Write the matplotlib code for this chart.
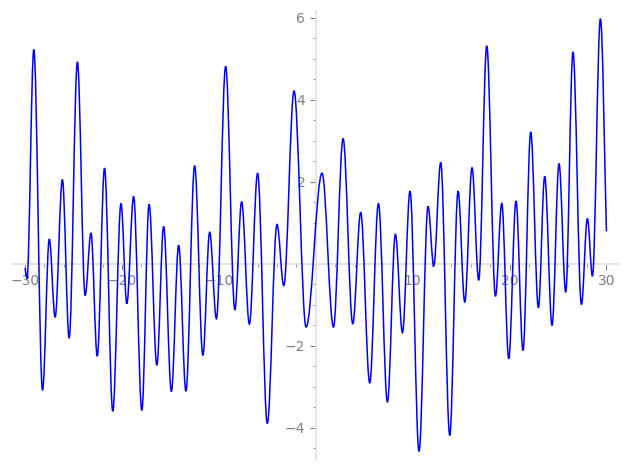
import matplotlib
matplotlib.use("Agg")
import matplotlib.pyplot as plt
from matplotlib.path import Path
from matplotlib.patches import PathPatch
from matplotlib.ticker import FixedLocator, MultipleLocator

# turning points of the curve (first/last are the ends)
x_pts = [-30.0, -29.8, -29.1, -28.2, -27.5, -26.9, -26.15, -25.45, -24.6, -23.8,
         -23.2, -22.55, -21.8, -20.95, -20.1, -19.5, -18.8, -17.95, -17.2, -16.4,
         -15.7, -14.9, -14.15, -13.4, -12.5, -11.65, -10.95, -10.25, -9.3, -8.35,
         -7.65, -6.85, -6.0, -5.0, -4.0, -3.3, -2.24, -1.0, 0.65, 1.83,
         2.82, 3.82, 4.64, 5.57, 6.47, 7.40, 8.22, 8.95, 9.73, 10.66,
         11.59, 12.18, 12.9, 13.83, 14.69, 15.38, 16.13, 16.82, 17.65, 18.55,
         19.2, 19.92, 20.67, 21.39, 22.19, 22.98, 23.63, 24.39, 25.11, 25.8,
         26.55, 27.42, 28.04, 28.56, 29.38, 30.0]
y_pts = [-0.1, -0.35, 5.22, -3.08, 0.6, -1.30, 2.05, -1.81, 4.92, -0.77,
         0.75, -2.25, 2.33, -3.59, 1.47, -0.97, 1.64, -3.57, 1.45, -2.47,
         0.91, -3.11, 0.45, -3.10, 2.39, -2.23, 0.77, -1.34, 4.81, -1.12,
         1.51, -1.47, 2.21, -3.89, 0.96, -0.53, 4.21, -1.54, 2.21, -1.54,
         3.05, -1.46, 1.25, -2.90, 1.47, -3.37, 0.72, -1.68, 1.77, -4.57,
         1.40, -0.05, 2.47, -4.18, 1.77, -0.93, 2.34, -0.40, 5.31, -0.79,
         1.47, -2.31, 1.53, -2.11, 3.21, -1.07, 2.13, -1.50, 2.44, -0.69,
         5.16, -0.99, 1.10, -0.30, 5.97, 0.79]

fig = plt.figure(figsize=(6.27, 4.70), dpi=100)
ax = fig.add_axes([0.0207, 0.0213, 0.965, 0.957])

# smooth curve through the turning points: cubic pieces with flat tangents
k = 0.36
verts = [(x_pts[0], y_pts[0])]
codes = [Path.MOVETO]
n = len(x_pts)
for i in range(n - 1):
    x0, y0 = x_pts[i], y_pts[i]
    x1, y1 = x_pts[i + 1], y_pts[i + 1]
    dx = x1 - x0
    c0 = (x0 + k * dx, y0)
    c1 = (x1 - k * dx, y1)
    if i == 0:
        c0 = (x0 + k * dx, y0 + (y1 - y0) * 0.5)
    if i == n - 2:
        c1 = (x1 - k * dx, y1 + (y0 - y1) * 0.4)
    verts += [c0, c1, (x1, y1)]
    codes += [Path.CURVE4] * 3
ax.add_patch(PathPatch(Path(verts, codes), facecolor="none",
                       edgecolor="#0000ff", lw=1.1, zorder=3))

ax.set_xlim(-31.25, 31.2)
ax.set_ylim(-4.78, 6.18)

for s in ["top", "right"]:
    ax.spines[s].set_visible(False)
ax.spines["left"].set_position(("data", 0))
ax.spines["bottom"].set_position(("data", 0))
for s in ["left", "bottom"]:
    ax.spines[s].set_color("#e0e0e0")
    ax.spines[s].set_linewidth(1.2)

ax.xaxis.set_major_locator(FixedLocator([-30, -20, -10, 10, 20, 30]))
ax.xaxis.set_minor_locator(MultipleLocator(2))
ax.yaxis.set_major_locator(FixedLocator([-4, -2, 2, 4, 6]))
ax.yaxis.set_minor_locator(MultipleLocator(0.5))
ax.tick_params(which="both", colors="#808080", labelsize=10, direction="out")
ax.tick_params(which="major", length=4, width=0.8)
ax.tick_params(which="minor", length=2, width=0.6)
ax.set_xticklabels(["\u221230", "\u221220", "\u221210", "10", "20", "30"])
ax.set_yticklabels(["\u22124", "\u22122", "2", "4", "6"])
ax.patch.set_alpha(0)

fig.savefig("out.png", dpi=100)
